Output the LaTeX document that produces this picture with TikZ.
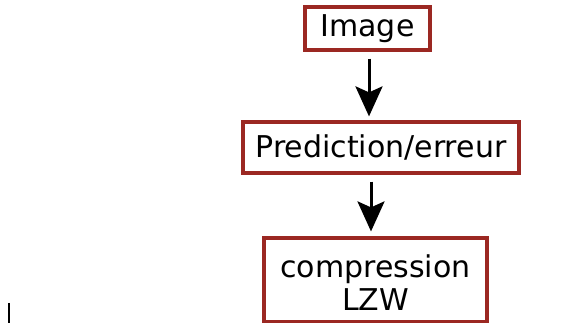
\documentclass[tikz,border=0pt]{standalone}
\usepackage{fontspec}
\setmainfont{DejaVu Sans}
\usetikzlibrary{arrows.meta,calc}
\definecolor{boxred}{RGB}{155,40,34}
\begin{document}
\begin{tikzpicture}[x=1pt,y=1pt,
  stagebox/.style={draw=boxred,line width=3.2pt,inner sep=0pt,align=center,
    font=\fontsize{30}{33}\selectfont},
  flow/.style={line width=3pt,-{Stealth[length=30pt,width=27pt,inset=6pt]}}]
  \useasboundingbox (0,0) rectangle (564,323);
  % processing stages
  \node[stagebox,minimum width=125pt,minimum height=43pt] (img) at (367.5,294.5) {Image};
  \node[stagebox,minimum width=276pt,minimum height=51pt] (pred) at (381,175.5) {Prediction/erreur};
  \node[stagebox,minimum width=223pt,minimum height=84pt] (lzw) at (375.5,43) {\rule{0pt}{29pt}compression\\LZW};
  % flow between the stages
  \draw[flow] ($(img.south)+(1.5,-7)$) -- ($(img.south |- pred.north)+(1.5,4)$);
  \draw[flow] ($(pred.south)+(-10,-7)$) -- ($(pred.south |- lzw.north)+(-10,5)$);
  % stray stroke at the lower left
  \draw[line width=2.6pt] (9,20) -- (9,0);
\end{tikzpicture}
\end{document}
